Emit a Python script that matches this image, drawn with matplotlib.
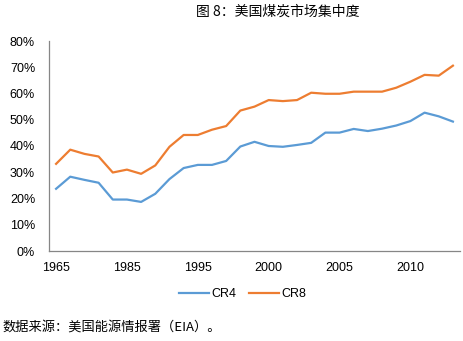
import matplotlib
matplotlib.use("Agg")
import matplotlib.pyplot as plt
import numpy as np

plt.rcParams['font.family'] = ['Liberation Sans', 'Noto Sans CJK SC', 'DejaVu Sans']

YEARS = ["1965", "1970", "1975", "1980", "1982", "1985", "1987", "1989", "1991", "1993",
         "1995", "1996", "1997", "1998", "1999", "2000", "2001", "2002", "2003", "2004",
         "2005", "2006", "2007", "2008", "2009", "2010", "2011", "2012", "2013"]
CR4 = [23.7, 28.3, 27.1, 26.0, 19.6, 19.6, 18.7, 21.8, 27.4, 31.6,
       32.8, 32.8, 34.3, 39.8, 41.6, 40.0, 39.7, 40.4, 41.2, 45.1,
       45.1, 46.5, 45.7, 46.6, 47.8, 49.5, 52.7, 51.3, 49.3]
CR8 = [33.2, 38.6, 37.0, 36.0, 29.9, 31.0, 29.4, 32.6, 39.7, 44.2,
       44.2, 46.2, 47.6, 53.5, 55.0, 57.5, 57.1, 57.5, 60.3, 59.9,
       59.9, 60.7, 60.7, 60.7, 62.2, 64.5, 67.1, 66.8, 70.6]
TITLE = "图 8：美国煤炭市场集中度"
SOURCE = "数据来源：美国能源情报署（EIA）。"

fig = plt.figure(figsize=(4.64, 3.41), dpi=100)
ax = fig.add_axes([49 / 464, 1 - 251 / 341, 411 / 464, 210 / 341])

x = np.arange(len(YEARS))
ax.plot(x, np.array(CR4) / 100, color="#5B9BD5", lw=1.6, label="CR4")
ax.plot(x, np.array(CR8) / 100, color="#ED7D31", lw=1.6, label="CR8")

ax.set_xlim(-0.5, len(YEARS) - 0.5)
ax.set_ylim(0, 0.8)
ax.set_yticks(np.arange(0, 0.81, 0.1))
ax.set_yticklabels([f"{int(round(v * 100))}%" for v in np.arange(0, 0.81, 0.1)])
ax.set_xticks(x[::5])
ax.set_xticklabels(YEARS[::5])
ax.tick_params(length=0, labelsize=9, colors="#000000")
ax.tick_params(axis="x", pad=8)
ax.tick_params(axis="y", pad=10)
for side in ("top", "right"):
    ax.spines[side].set_visible(False)
for side in ("left", "bottom"):
    ax.spines[side].set_color("#868686")
    ax.spines[side].set_linewidth(0.9)

fig.legend(loc="center", bbox_to_anchor=(243 / 464, 1 - 294 / 341), ncol=2,
           frameon=False, fontsize=9, handlelength=2.4, handletextpad=0.2,
           columnspacing=1.0)

fig.text(278 / 464, 1 - 12 / 341, TITLE, ha="center", va="center", fontsize=10,
         family=['Noto Sans CJK SC', 'DejaVu Sans'])
fig.text(2 / 464, 1 - 327 / 341, SOURCE, ha="left", va="center", fontsize=9.5,
         family=['Noto Sans CJK SC', 'DejaVu Sans'])

fig.savefig("out.png", dpi=100)
